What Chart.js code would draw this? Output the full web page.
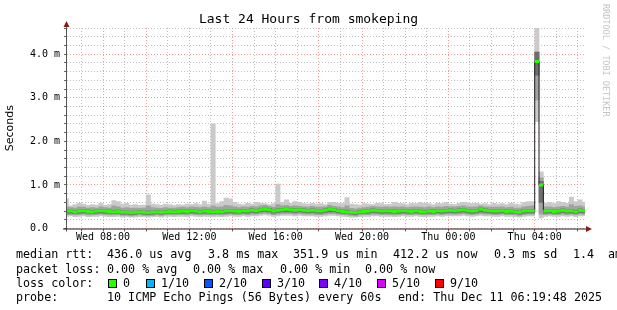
<!DOCTYPE html>
<html><head><meta charset="utf-8">
<script src="https://cdn.jsdelivr.net/npm/chart.js@4.4.1/dist/chart.umd.min.js"></script>
<style>
html,body{margin:0;padding:0;background:#fff;}
#wrap{position:relative;width:617px;height:310px;overflow:hidden;background:#fff;}
canvas{position:absolute;left:0;top:0;}
.t{position:absolute;font-family:'DejaVu Sans Mono',monospace;font-size:11.7px;line-height:15px;white-space:pre;color:#000;}
#title{position:absolute;left:0;top:11px;width:617px;text-align:center;font-family:'DejaVu Sans Mono',monospace;font-size:13px;line-height:16px;color:#000;white-space:pre;}
#wm{position:absolute;left:601px;top:4px;writing-mode:vertical-rl;font-family:'DejaVu Sans Mono',monospace;font-size:8.5px;line-height:10px;color:#c4c4c4;white-space:pre;}
.box{position:absolute;width:7px;height:7px;border:1px solid #000;}
</style></head>
<body>
<div id="wrap">
<canvas id="c" width="617" height="310"></canvas>
<div id="title">Last 24 Hours from smokeping</div>
<div id="wm">RRDTOOL / TOBI OETIKER</div>
<div id="legend"></div>
</div>
<script>
// ---- data (ms), one value per 12-minute bin, first bin centred at Wed 06:18 ----
const medianRtt = [
0.41,0.40,0.38,0.40,0.41,0.39,0.38,0.40,0.41,0.40,
0.39,0.38,0.39,0.37,0.37,0.36,0.37,0.38,0.37,0.36,
0.37,0.38,0.37,0.38,0.39,0.38,0.39,0.40,0.39,0.41,
0.40,0.38,0.40,0.39,0.38,0.39,0.38,0.40,0.41,0.40,
0.39,0.41,0.40,0.42,0.41,0.43,0.44,0.43,0.40,0.42,
0.43,0.44,0.43,0.42,0.43,0.42,0.41,0.42,0.41,0.40,
0.42,0.44,0.43,0.41,0.39,0.38,0.37,0.36,0.38,0.39,
0.40,0.42,0.41,0.40,0.41,0.40,0.39,0.40,0.41,0.40,
0.39,0.41,0.39,0.38,0.40,0.39,0.41,0.40,0.41,0.42,
0.41,0.42,0.43,0.41,0.40,0.41,0.44,0.42,0.41,0.40,
0.40,0.41,0.39,0.40,0.38,0.37,0.40,0.41,0.41,3.83,
1.00,0.40,0.41,0.39,0.40,0.42,0.40,0.41,0.38,0.42,
0.41];
const pingMax = [
0.68,0.52,0.55,0.58,0.56,0.53,0.55,0.54,0.58,0.53,
0.55,0.64,0.62,0.56,0.58,0.54,0.55,0.53,0.54,0.77,
0.56,0.55,0.54,0.56,0.55,0.53,0.55,0.54,0.56,0.55,
0.57,0.55,0.63,0.56,2.40,0.57,0.62,0.70,0.68,0.60,
0.56,0.55,0.58,0.56,0.60,0.58,0.57,0.55,0.57,1.02,
0.60,0.66,0.58,0.62,0.60,0.57,0.56,0.58,0.56,0.57,
0.55,0.60,0.60,0.58,0.57,0.71,0.56,0.55,0.54,0.57,
0.56,0.55,0.58,0.57,0.55,0.56,0.60,0.58,0.57,0.55,
0.58,0.57,0.60,0.58,0.57,0.55,0.58,0.57,0.60,0.56,
0.55,0.58,0.60,0.59,0.57,0.58,0.56,0.57,0.55,0.58,
0.56,0.57,0.55,0.58,0.56,0.55,0.60,0.62,0.62,4.60,
1.30,0.58,0.60,0.57,0.62,0.60,0.58,0.72,0.62,0.66,
0.60];
const pingHigh = [
0.50,0.48,0.47,0.50,0.49,0.47,0.48,0.47,0.50,0.48,
0.47,0.52,0.50,0.47,0.48,0.46,0.47,0.46,0.47,0.52,
0.48,0.47,0.46,0.48,0.47,0.47,0.48,0.49,0.48,0.50,
0.49,0.48,0.50,0.48,0.52,0.49,0.50,0.53,0.52,0.50,
0.48,0.50,0.49,0.51,0.50,0.52,0.53,0.51,0.49,0.55,
0.52,0.53,0.51,0.52,0.51,0.50,0.49,0.51,0.49,0.49,
0.50,0.53,0.51,0.50,0.48,0.52,0.46,0.45,0.47,0.48,
0.49,0.51,0.50,0.49,0.50,0.49,0.50,0.49,0.50,0.48,
0.49,0.50,0.49,0.48,0.50,0.48,0.50,0.49,0.51,0.50,
0.50,0.51,0.52,0.50,0.49,0.50,0.52,0.50,0.49,0.49,
0.49,0.50,0.48,0.49,0.47,0.47,0.50,0.51,0.52,4.05,
1.16,0.50,0.50,0.48,0.50,0.51,0.49,0.55,0.51,0.52,
0.50];
const pingNearHigh = [
0.44,0.43,0.41,0.43,0.44,0.42,0.41,0.43,0.44,0.43,
0.42,0.41,0.42,0.40,0.40,0.39,0.40,0.41,0.40,0.40,
0.40,0.41,0.40,0.41,0.42,0.41,0.42,0.43,0.42,0.44,
0.43,0.41,0.43,0.42,0.41,0.42,0.41,0.43,0.44,0.43,
0.42,0.44,0.43,0.45,0.44,0.46,0.47,0.46,0.43,0.45,
0.46,0.47,0.46,0.45,0.46,0.45,0.44,0.45,0.44,0.43,
0.45,0.47,0.46,0.44,0.42,0.42,0.40,0.39,0.41,0.42,
0.43,0.45,0.44,0.43,0.44,0.43,0.42,0.43,0.44,0.43,
0.42,0.44,0.42,0.41,0.43,0.42,0.44,0.43,0.44,0.45,
0.44,0.45,0.46,0.44,0.43,0.44,0.47,0.45,0.44,0.43,
0.43,0.44,0.42,0.43,0.41,0.40,0.43,0.44,0.44,4.05,
1.08,0.43,0.44,0.42,0.43,0.45,0.43,0.44,0.41,0.45,
0.44];
const pingNearLow = [
0.36,0.35,0.34,0.35,0.36,0.35,0.34,0.35,0.36,0.35,
0.35,0.34,0.35,0.33,0.33,0.32,0.33,0.34,0.33,0.32,
0.33,0.34,0.33,0.34,0.35,0.34,0.35,0.35,0.35,0.36,
0.35,0.34,0.35,0.35,0.34,0.35,0.34,0.35,0.36,0.35,
0.35,0.36,0.35,0.37,0.36,0.38,0.39,0.38,0.35,0.37,
0.38,0.38,0.38,0.37,0.38,0.37,0.36,0.37,0.36,0.35,
0.37,0.38,0.38,0.36,0.35,0.34,0.33,0.32,0.34,0.35,
0.35,0.37,0.36,0.35,0.36,0.35,0.35,0.35,0.36,0.35,
0.35,0.36,0.35,0.34,0.35,0.35,0.36,0.35,0.36,0.37,
0.36,0.37,0.38,0.36,0.35,0.36,0.38,0.37,0.36,0.35,
0.35,0.36,0.35,0.35,0.34,0.33,0.35,0.36,0.36,3.52,
0.60,0.35,0.36,0.35,0.35,0.37,0.35,0.36,0.34,0.37,
0.36];
const pingLow = [
0.32,0.32,0.31,0.32,0.33,0.31,0.31,0.32,0.33,0.32,
0.31,0.31,0.32,0.30,0.30,0.29,0.30,0.31,0.30,0.30,
0.30,0.31,0.30,0.31,0.32,0.31,0.32,0.32,0.31,0.33,
0.32,0.31,0.32,0.32,0.31,0.32,0.31,0.32,0.33,0.32,
0.32,0.33,0.32,0.33,0.33,0.34,0.35,0.34,0.32,0.33,
0.34,0.34,0.34,0.33,0.34,0.33,0.33,0.33,0.32,0.32,
0.33,0.34,0.34,0.33,0.32,0.31,0.30,0.29,0.31,0.32,
0.32,0.33,0.33,0.32,0.32,0.32,0.31,0.32,0.33,0.32,
0.32,0.33,0.32,0.31,0.32,0.32,0.33,0.32,0.33,0.33,
0.33,0.33,0.34,0.33,0.32,0.33,0.34,0.33,0.33,0.32,
0.32,0.33,0.32,0.32,0.31,0.30,0.32,0.33,0.33,2.95,
0.33,0.32,0.33,0.32,0.32,0.33,0.32,0.33,0.31,0.33,
0.33];
const pingMin = [
0.28,0.29,0.27,0.28,0.29,0.27,0.28,0.28,0.29,0.28,
0.27,0.27,0.28,0.26,0.27,0.26,0.26,0.27,0.27,0.26,
0.27,0.27,0.26,0.28,0.28,0.27,0.28,0.28,0.27,0.29,
0.28,0.27,0.28,0.28,0.27,0.28,0.27,0.28,0.29,0.28,
0.28,0.29,0.28,0.29,0.29,0.30,0.31,0.30,0.28,0.29,
0.30,0.30,0.30,0.29,0.30,0.29,0.29,0.29,0.28,0.28,
0.29,0.30,0.30,0.29,0.28,0.27,0.26,0.26,0.27,0.28,
0.28,0.29,0.29,0.28,0.28,0.28,0.27,0.28,0.29,0.28,
0.28,0.29,0.28,0.27,0.28,0.28,0.29,0.28,0.29,0.29,
0.29,0.29,0.30,0.29,0.28,0.29,0.30,0.29,0.29,0.28,
0.28,0.29,0.28,0.28,0.27,0.26,0.28,0.29,0.29,2.45,
0.24,0.28,0.29,0.28,0.28,0.29,0.28,0.29,0.27,0.29,
0.29];

const xLabelHours = [8, 12, 16, 20, 24, 28];
const xTickLabels = ['Wed 08:00','Wed 12:00','Wed 16:00','Wed 20:00','Thu 00:00','Thu 04:00'];
const yTickLabels = ['0.0  ','1.0 m','2.0 m','3.0 m','4.0 m'];
const lossLabels = ['0','1/10','2/10','3/10','4/10','5/10','9/10'];
const lossColors = ['#26ff00','#00b8ff','#0059ff','#5e00ff','#7e00ff','#dd00ff','#ff0000'];

// time axis: hours since Wed 00:00; window Wed 06:19:48 .. Thu 06:19:48
const startHour = 6.33, endHour = 30.33, binHours = 0.2, firstBinCenter = 6.3;
const binCenters = medianRtt.map((_, j) => +(firstBinCenter + binHours * j).toFixed(3));

const band = (lo, hi) => binCenters.map((x, j) => ({x: x, y: [lo[j], hi[j]]}));
const greenPts = [];
binCenters.forEach((x, j) => {
  greenPts.push({x: x - binHours / 2, y: medianRtt[j]});
  greenPts.push({x: x + binHours / 2, y: medianRtt[j]});
  greenPts.push({x: x + binHours / 2, y: null});
});

const axesPlugin = {
  id: 'rrdAxes',
  afterDatasetsDraw(chart) {
    const {ctx, chartArea: a} = chart;
    ctx.save();
    ctx.lineWidth = 1;
    ctx.strokeStyle = '#555';
    ctx.beginPath(); ctx.moveTo(a.left - 0.5, a.top - 5); ctx.lineTo(a.left - 0.5, a.bottom + 3); ctx.stroke();
    ctx.strokeStyle = '#222';
    ctx.beginPath(); ctx.moveTo(a.left - 4, a.bottom + 0.5); ctx.lineTo(a.right + 3, a.bottom + 0.5); ctx.stroke();
    ctx.fillStyle = '#8b1a1a';
    ctx.beginPath(); ctx.moveTo(a.left - 3.5, a.top - 1); ctx.lineTo(a.left + 2.5, a.top - 1); ctx.lineTo(a.left - 0.5, a.top - 7); ctx.closePath(); ctx.fill();
    ctx.beginPath(); ctx.moveTo(a.right + 1, a.bottom - 2.5); ctx.lineTo(a.right + 1, a.bottom + 3.5); ctx.lineTo(a.right + 7, a.bottom + 0.5); ctx.closePath(); ctx.fill();
    ctx.restore();
  }
};

const isInt = v => Math.abs(v - Math.round(v)) < 1e-6;

new Chart(document.getElementById('c'), {
  type: 'bar',
  data: {
    datasets: [
      {type: 'line', data: greenPts, borderColor: '#26ff00', borderWidth: 3, pointRadius: 0, spanGaps: false, borderCapStyle: 'butt', order: 0},
      {type: 'line', data: binCenters.map((x, j) => ({x: x, y: medianRtt[j]})), stepped: 'middle', borderColor: '#202020', borderWidth: 1, pointRadius: 0, order: 1},
      {type: 'bar', data: band(pingNearLow, pingNearHigh), backgroundColor: '#6e6e6e', grouped: false, barPercentage: 1, categoryPercentage: 1, borderWidth: 0, order: 2},
      {type: 'bar', data: band(pingLow, pingHigh), backgroundColor: '#a2a2a2', grouped: false, barPercentage: 1, categoryPercentage: 1, borderWidth: 0, order: 3},
      {type: 'bar', data: band(pingMin, pingMax), backgroundColor: '#cacaca', grouped: false, barPercentage: 1, categoryPercentage: 1, borderWidth: 0, order: 4}
    ]
  },
  options: {
    responsive: false,
    animation: false,
    events: [],
    layout: {padding: {left: 0, right: 32, top: 28, bottom: 0}},
    plugins: {legend: {display: false}, tooltip: {enabled: false}, title: {display: false}},
    scales: {
      x: {
        type: 'linear', min: startHour, max: endHour, offset: false,
        grid: {offset: false, lineWidth: 1, drawTicks: true, tickLength: 3, tickColor: '#666',
               color: c => (c.tick && Math.round(c.tick.value) % 2 === 0) ? 'rgba(255,120,120,0.75)' : 'rgba(170,170,170,0.75)'},
        border: {display: false, dash: [1, 2]},
        afterBuildTicks: s => { const t = []; for (let h = 7; h <= 30; h++) t.push({value: h}); s.ticks = t; },
        afterFit: s => { s.height = 310 - 228.5; },
        ticks: {autoSkip: false, maxRotation: 0, minRotation: 0, padding: 0, color: '#000',
                font: {family: 'DejaVu Sans Mono', size: 10},
                callback: v => { const i = xLabelHours.indexOf(Math.round(v)); return i >= 0 ? xTickLabels[i] : ''; }}
      },
      y: {
        type: 'linear', min: 0, max: 4.6,
        grid: {lineWidth: 1, drawTicks: true, tickLength: 3, tickColor: '#666',
               color: c => (c.tick && isInt(c.tick.value)) ? 'rgba(255,120,120,0.75)' : 'rgba(170,170,170,0.75)'},
        border: {display: false, dash: [1, 2]},
        afterBuildTicks: s => { const t = []; for (let i = 0; i <= 23; i++) t.push({value: i / 5}); s.ticks = t; },
        afterFit: s => { s.width = 67; },
        title: {display: true, text: 'Seconds', color: '#000', font: {family: 'DejaVu Sans', size: 11}, padding: {top: 4, bottom: 0}},
        ticks: {autoSkip: false, padding: 4, color: '#000', font: {family: 'DejaVu Sans Mono', size: 10},
                callback: v => isInt(v) ? yTickLabels[Math.round(v)] : ''}
      }
    }
  },
  plugins: [axesPlugin]
});

// ---- legend text below the chart ----
const leg = document.getElementById('legend');
function put(text, x, yc) {
  const d = document.createElement('div');
  d.className = 't'; d.textContent = text;
  d.style.left = x + 'px'; d.style.top = (yc - 7.5) + 'px';
  leg.appendChild(d);
}
const rows = [254, 269, 283, 297];
put('median rtt:', 16, rows[0]);
put('436.0 us avg', 107, rows[0]);
put('3.8 ms max', 208, rows[0]);
put('351.9 us min', 293, rows[0]);
put('412.2 us now', 393, rows[0]);
put('0.3 ms sd', 494, rows[0]);
put('1.4', 573, rows[0]);
put('am/as', 608, rows[0]);
put('packet loss:', 16, rows[1]);
put('0.00 % avg', 107, rows[1]);
put('0.00 % max', 193, rows[1]);
put('0.00 % min', 280, rows[1]);
put('0.00 % now', 365, rows[1]);
put('loss color:', 16, rows[2]);
const boxX = [108, 146, 204, 262, 319, 377, 435];
lossLabels.forEach((lab, i) => {
  const b = document.createElement('div');
  b.className = 'box'; b.style.background = lossColors[i];
  b.style.left = boxX[i] + 'px'; b.style.top = (rows[2] - 4.5) + 'px';
  leg.appendChild(b);
  put(lab, boxX[i] + 15, rows[2]);
});
put('probe:', 16, rows[3]);
put('10 ICMP Echo Pings (56 Bytes) every 60s', 107, rows[3]);
put('end: Thu Dec 11 06:19:48 2025', 398, rows[3]);
</script>
</body></html>
